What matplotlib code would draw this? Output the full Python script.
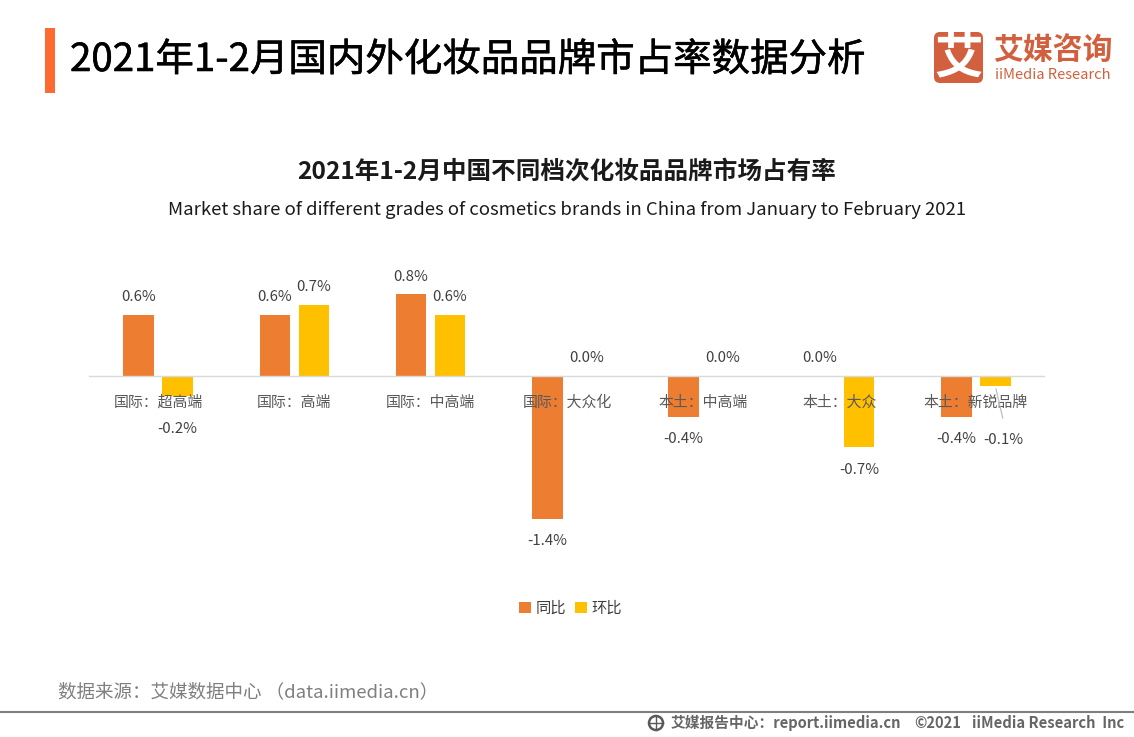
import matplotlib
matplotlib.use("Agg")
import matplotlib.pyplot as plt
import matplotlib.patheffects as pe
from matplotlib.patches import FancyBboxPatch, Rectangle, Circle

plt.rcParams['font.family'] = ['Noto Sans CJK SC', 'DejaVu Sans']

categories = ["国际：超高端", "国际：高端", "国际：中高端", "国际：大众化", "本土：中高端", "本土：大众", "本土：新锐品牌"]
yoy = [0.6, 0.6, 0.8, -1.4, -0.4, 0.0, -0.4]
mom = [-0.2, 0.7, 0.6, 0.0, 0.0, -0.7, -0.1]
color_yoy = "#ed7d31"
color_mom = "#ffc000"
text_color = "#404040"
tick_color = "#595959"
logo_color = "#d2603f"

W, H = 1134, 737
fig = plt.figure(figsize=(W / 100, H / 100), dpi=100)

# axes box: 1 unit = 102 px, baseline at y=376 px
y_top, y_bot = 1.2, -1.8
top_px = 376 - y_top * 102
bot_px = 376 - y_bot * 102
ax = fig.add_axes([89 / W, 1 - bot_px / H, (1044 - 89) / W, (bot_px - top_px) / H])

x = list(range(len(categories)))
off = 19.5 / 136.3
width = 30.5 / 136.3
b1 = ax.bar([i - off for i in x], yoy, width, color=color_yoy, label="同比")
b2 = ax.bar([i + off for i in x], mom, width, color=color_mom, label="环比")

ax.set_xlim(-0.506, 6.5)
ax.set_ylim(y_bot, y_top)
ax.set_yticks([])
ax.set_xticks(x)
ax.set_xticklabels(categories)
ax.tick_params(axis="x", length=0, pad=14, labelsize=10.75, labelcolor=tick_color)
for s in ["top", "left", "right"]:
    ax.spines[s].set_visible(False)
ax.spines["bottom"].set_position(("data", 0))
ax.spines["bottom"].set_color("#d9d9d9")
ax.spines["bottom"].set_linewidth(1)
ax.patch.set_alpha(0)

# data labels, offsets in points from the bar end
def label(bars, values, shifts):
    for bar, v, (dx, dy) in zip(bars, values, shifts):
        cx = bar.get_x() + bar.get_width() / 2
        sign = 1 if v >= 0 else -1
        ax.annotate(f"{v:.1f}%", (cx, v), xytext=(dx, sign * 14.4 - 1.7 + dy), textcoords="offset points",
                    ha="center", va="center", fontsize=10.8, color=text_color)

label(b1, yoy, [(0, 0)] * 7)
label(b2, mom, [(0, -7.2), (0, 0), (0, 0), (0, 0), (0, 0), (0, 0), (5.5, -22.5)])
ax.annotate("", xy=(6 + off + 8 / 136.3, -0.44), xytext=(6 + off, -0.1),
            arrowprops=dict(arrowstyle="-", color="#bfbfbf", lw=0.9))

fig.legend(handles=[b1, b2], loc="center", bbox_to_anchor=(570.5 / W, 1 - 608 / H), ncol=2, frameon=False,
           fontsize=11, labelcolor=text_color, handlelength=0.75, handleheight=0.75,
           handletextpad=0.3, columnspacing=0.6)

# page furniture, drawn in pixel coordinates
pg = fig.add_axes([0, 0, 1, 1], zorder=-1)
pg.set_xlim(0, W)
pg.set_ylim(H, 0)
pg.axis("off")
pg.add_patch(Rectangle((45, 28), 10, 65, color="#ff6a33", lw=0))
t = pg.text(70, 60, "2021年1-2月国内外化妆品品牌市占率数据分析", fontsize=27.7, color="#000000", ha="left", va="center")
t.set_path_effects([pe.withStroke(linewidth=0.4, foreground="#000000")])
pg.text(567, 172, "2021年1-2月中国不同档次化妆品品牌市场占有率", fontsize=17.7, weight="bold", color="#1a1a1a", ha="center", va="center")
pg.text(567, 210, "Market share of different grades of cosmetics brands in China from January to February 2021",
        fontsize=13.35, color="#1a1a1a", ha="center", va="center")

# logo
pg.add_patch(FancyBboxPatch((934, 32), 49, 51, boxstyle="round,pad=0,rounding_size=6", fc=logo_color, lw=0))
pg.text(959, 58, "艾", fontsize=35, weight="bold", color="white", ha="center", va="center")
pg.text(1052.5, 50, "艾媒咨询", fontsize=21.5, weight="bold", color=logo_color, ha="center", va="center")
pg.text(1052.5, 74.5, "iiMedia Research", fontsize=10.6, color=logo_color, ha="center", va="center")

# source and footer
pg.text(58, 692.5, "数据来源：艾媒数据中心 （data.iimedia.cn）", fontsize=13.35, color="#7f7f7f", ha="left", va="center")
pg.plot([0, W], [712, 712], color="#7f7f7f", lw=1.5)
pg.add_patch(Circle((656, 723), 7, fc="none", ec="#595959", lw=1.8))
pg.plot([649, 663], [723, 723], color="#595959", lw=1)
pg.plot([656, 656], [716, 730], color="#595959", lw=1)
pg.text(671, 722.5, "艾媒报告中心：report.iimedia.cn", fontsize=10.6, weight="bold", color="#666666", ha="left", va="center")
pg.text(914, 722.5, "©2021", fontsize=10.6, weight="bold", color="#666666", ha="left", va="center")
pg.text(972, 722.5, "iiMedia Research  Inc", fontsize=10.6, weight="bold", color="#666666", ha="left", va="center")

fig.savefig("out.png", dpi=100)
